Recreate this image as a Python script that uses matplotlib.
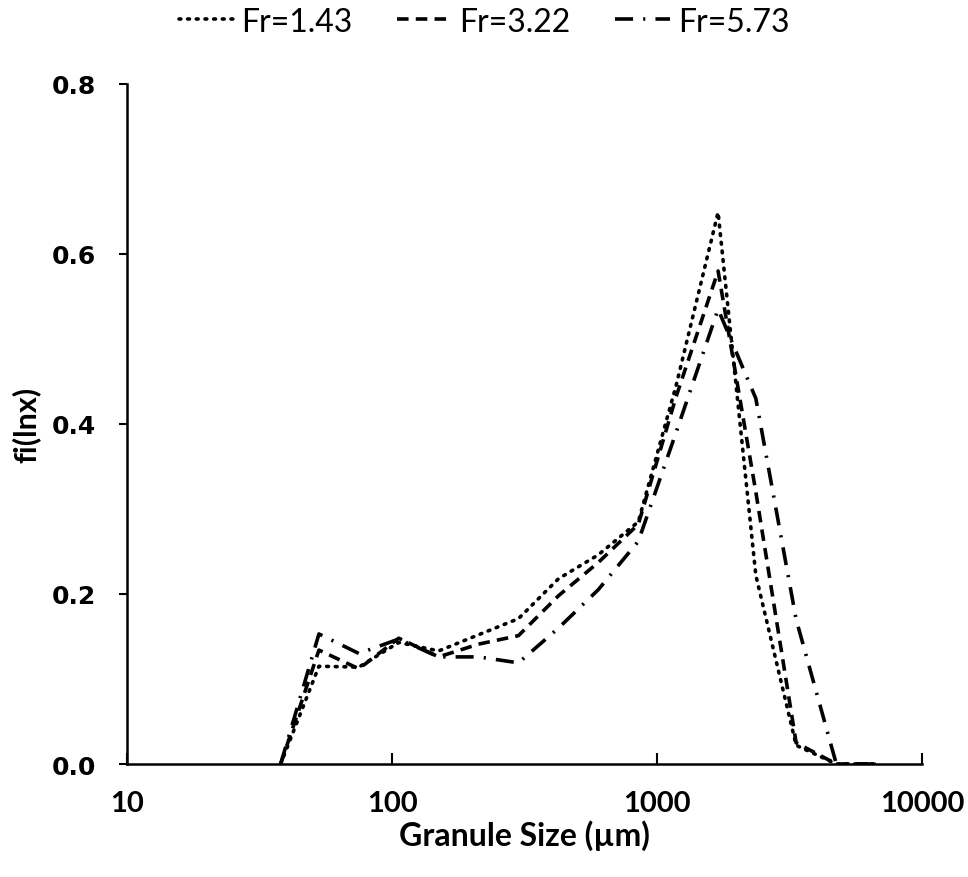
import numpy as np
import matplotlib
matplotlib.use("Agg")
import matplotlib.pyplot as plt
from matplotlib.ticker import FixedLocator, NullLocator

# sieve sizes (um) and size distributions
size = [38, 53, 75, 106, 150, 212, 300, 425, 600, 850, 1180, 1700, 2360, 3350, 4750, 6700]
fr_143 = [0, 0.115, 0.114, 0.143, 0.133, 0.152, 0.171, 0.218, 0.246, 0.285, 0.445, 0.649, 0.222, 0.022, 0, 0]
fr_322 = [0, 0.134, 0.112, 0.148, 0.126, 0.141, 0.151, 0.198, 0.237, 0.282, 0.432, 0.580, 0.320, 0.025, 0, 0]
fr_573 = [0, 0.153, 0.130, 0.147, 0.126, 0.126, 0.119, 0.160, 0.205, 0.262, 0.390, 0.535, 0.430, 0.170, 0, 0]
labels = ["Fr=1.43", "Fr=3.22", "Fr=5.73"]

xticks = [10, 100, 1000, 10000]
yticks = [0.0, 0.2, 0.4, 0.6, 0.8]

fig = plt.figure(figsize=(9.68, 8.78), dpi=100)
ax = fig.add_axes([0.1312, 0.1287, 0.8213, 0.7745])

lw = 2.6
ax.plot(size, fr_143, color="black", lw=lw, linestyle=(0, (0.5, 1.9)),
        dash_capstyle="round", label=labels[0])
ax.plot(size, fr_322, color="black", lw=lw, linestyle=(0, (3.2, 2.0)), label=labels[1])
ax.plot(size, fr_573, color="black", lw=lw, linestyle=(0, (5.0, 2.8, 0.6, 2.8)),
        label=labels[2])

ax.set_xscale("log")
ax.set_xlim(10, 10000)
ax.set_ylim(0, 0.8)
ax.xaxis.set_major_locator(FixedLocator(xticks))
ax.xaxis.set_minor_locator(NullLocator())
ax.set_xticklabels([str(t) for t in xticks])
ax.set_yticks(yticks)
ax.set_yticklabels(["%.1f" % t for t in yticks])

for s in ["top", "right"]:
    ax.spines[s].set_visible(False)
for s in ["left", "bottom"]:
    ax.spines[s].set_linewidth(1.8)

ax.tick_params(axis="y", direction="out", length=6, width=1.5, pad=16)
ax.tick_params(axis="x", direction="in", length=8, width=1.5, pad=19)
for t in ax.get_yticklabels():
    t.set_fontfamily("DejaVu Sans")
    t.set_fontweight("bold")
    t.set_fontsize(18)
for t in ax.get_xticklabels():
    t.set_fontfamily("Lato")
    t.set_fontweight("bold")
    t.set_fontsize(21)

ax.set_xlabel("Granule Size (µm)", fontfamily="Lato", fontweight="bold", fontsize=23, labelpad=2)
ax.set_ylabel("fi(lnx)", fontfamily="Lato", fontweight="bold", fontsize=22, labelpad=8)

fig.legend(loc="upper center", bbox_to_anchor=(0.5, 1.024), ncol=3, frameon=False,
           prop={"family": "Lato", "size": 23}, handlelength=1.7, handletextpad=0.25,
           columnspacing=1.4)

fig.savefig("out.png", dpi=100)
